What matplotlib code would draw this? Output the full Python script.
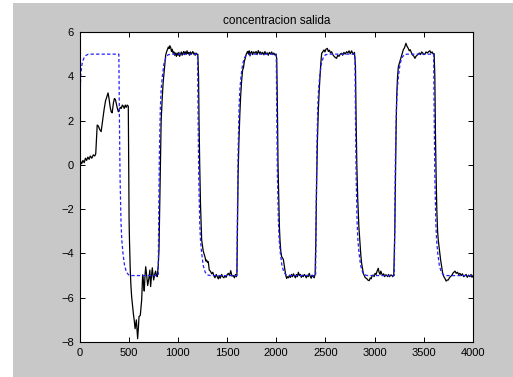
import matplotlib
matplotlib.use("Agg")
import matplotlib.pyplot as plt
from matplotlib.patches import Rectangle

plt.rcParams['font.family'] = ['Liberation Sans', 'DejaVu Sans']

title = "concentracion salida"
xticks = [0, 500, 1000, 1500, 2000, 2500, 3000, 3500, 4000]
yticks = [-8, -6, -4, -2, 0, 2, 4, 6]

# reference (blue dashed) knots
ref_t = [0, 4, 8, 12, 20, 30, 45, 65, 90,
         400, 406, 412, 422, 430, 442, 458, 478, 500, 530,
         800, 806, 812, 822, 830, 842, 858, 878, 900, 930,
         1200, 1206, 1212, 1222, 1230, 1242, 1258, 1278, 1300, 1330,
         1600, 1606, 1612, 1622, 1630, 1642, 1658, 1678, 1700, 1730,
         2000, 2006, 2012, 2022, 2030, 2042, 2058, 2078, 2100, 2130,
         2400, 2406, 2412, 2422, 2430, 2442, 2458, 2478, 2500, 2530,
         2800, 2806, 2812, 2822, 2830, 2842, 2858, 2878, 2900, 2930,
         3200, 3206, 3212, 3222, 3230, 3242, 3258, 3278, 3300, 3330,
         3600, 3606, 3612, 3622, 3630, 3642, 3658, 3678, 3700, 3730, 4000]
ref_y = [0.0, 2.0, 3.3, 4.0, 4.4, 4.65, 4.82, 4.94, 5.0,
         5.0, 2.0, -0.5, -2.6, -3.4, -4.0, -4.55, -4.85, -4.97, -5.0,
         -5.0, -2.0, 0.5, 2.6, 3.4, 4.0, 4.55, 4.85, 4.97, 5.0,
         5.0, 2.0, -0.5, -2.6, -3.4, -4.0, -4.55, -4.85, -4.97, -5.0,
         -5.0, -2.0, 0.5, 2.6, 3.4, 4.0, 4.55, 4.85, 4.97, 5.0,
         5.0, 2.0, -0.5, -2.6, -3.4, -4.0, -4.55, -4.85, -4.97, -5.0,
         -5.0, -2.0, 0.5, 2.6, 3.4, 4.0, 4.55, 4.85, 4.97, 5.0,
         5.0, 2.0, -0.5, -2.6, -3.4, -4.0, -4.55, -4.85, -4.97, -5.0,
         -5.0, -2.0, 0.5, 2.6, 3.4, 4.0, 4.55, 4.85, 4.97, 5.0,
         5.0, 2.0, -0.5, -2.6, -3.4, -4.0, -4.55, -4.85, -4.97, -5.0, -5.0]

# measured output (black solid)
out_t = [0, 12, 22, 35, 48, 60, 72, 85, 98, 110, 125, 140, 155, 165,
         180, 192, 205, 220, 235, 250, 265, 280, 290, 300, 312, 322, 332, 345, 355, 365,
         375, 385, 395, 405, 415, 425, 435, 445, 455, 465, 475, 485, 496,
         500, 504, 508, 515, 522, 530, 547, 557, 565, 572, 578, 585, 591, 598, 605, 618,
         632, 642, 650, 658, 666, 673, 683, 693, 706, 715, 723, 732, 740, 748, 754, 764,
         774, 782, 791, 801, 808, 815, 822, 830, 842, 850, 859, 868, 876, 885, 893, 903,
         910, 918, 927, 935, 943, 952, 960, 968, 976, 985, 993, 1002, 1010, 1018, 1027,
         1035, 1043, 1052, 1060, 1068, 1077, 1085, 1093, 1102, 1110, 1118, 1127, 1135,
         1143, 1152, 1160, 1168, 1176, 1185, 1195, 1203, 1210, 1215, 1222, 1230, 1242,
         1258, 1275, 1285, 1293, 1300, 1309, 1319, 1330, 1344, 1355, 1365, 1377, 1390,
         1400, 1411, 1420, 1430, 1445, 1455, 1468, 1479, 1490, 1502, 1513, 1525, 1537,
         1550, 1563, 1575, 1585, 1595, 1600, 1605, 1612, 1620, 1630, 1638, 1648, 1658,
         1667, 1675, 1684, 1692, 1700, 1709, 1718, 1725, 1733, 1742, 1750, 1760, 1770,
         1784, 1795, 1805, 1818, 1830, 1840, 1852, 1862, 1875, 1885, 1895, 1908, 1919,
         1930, 1942, 1953, 1965, 1975, 1987, 1997,
         2005, 2012, 2018, 2025, 2032, 2038, 2046, 2055, 2063, 2072, 2080, 2089, 2097,
         2106, 2115, 2125, 2135, 2145, 2155, 2165, 2175, 2185, 2195, 2205, 2215, 2225,
         2235, 2245, 2255, 2265, 2275, 2285, 2295, 2305, 2315, 2325, 2335, 2345, 2355,
         2365, 2375, 2385, 2395,
         2402, 2410, 2418, 2428, 2437, 2445, 2453, 2462, 2472, 2485, 2495, 2505, 2519,
         2530, 2540, 2552, 2563, 2575, 2588, 2600, 2613, 2625, 2638, 2650, 2664, 2675,
         2688, 2700, 2715, 2727, 2740, 2752, 2766, 2775, 2783, 2795,
         2805, 2812, 2819, 2828, 2840, 2851, 2860, 2868, 2877, 2885, 2895, 2905, 2919,
         2930, 2945, 2955, 2965, 2975, 2986, 2995, 3005, 3015, 3025, 3037, 3045, 3055,
         3063, 3071, 3082, 3092, 3102, 3112, 3122, 3132, 3142, 3152, 3162, 3173, 3185, 3195,
         3205, 3212, 3218, 3224, 3232, 3241, 3252, 3265, 3278, 3291, 3305, 3318, 3330,
         3342, 3352, 3362, 3376, 3388, 3400, 3410, 3420, 3432, 3444, 3455, 3467, 3478,
         3490, 3500, 3511, 3522, 3535, 3550, 3562, 3572, 3585, 3596, 3605,
         3612, 3618, 3625, 3632, 3640, 3647, 3660, 3671, 3682, 3692, 3703, 3715, 3727,
         3738, 3749, 3760, 3770, 3783, 3795, 3805, 3817, 3830, 3842, 3855, 3867, 3880,
         3892, 3905, 3918, 3930, 3942, 3955, 3969, 3980, 3990, 4000]
out_y = [0.0, 0.15, 0.05, 0.2, 0.1, 0.3, 0.2, 0.35, 0.25, 0.4, 0.3, 0.45, 0.4, 0.5,
         1.8, 1.75, 1.6, 1.5, 2.0, 2.5, 2.9, 3.1, 3.25, 3.0, 2.6, 2.4, 2.35, 2.8, 3.0, 2.95,
         2.75, 2.55, 2.4, 2.5, 2.6, 2.55, 2.7, 2.65, 2.55, 2.7, 2.6, 2.7, 2.65,
         0.0, -2.5, -3.4, -4.6, -5.4, -5.95, -6.7, -7.05, -7.4, -7.2, -7.0, -7.5, -7.85, -7.4, -6.85, -6.8,
         -6.1, -4.97, -5.3, -5.7, -5.0, -4.6, -5.0, -5.45, -5.1, -4.75, -5.5, -5.0, -4.65, -5.0, -5.2, -4.95,
         -4.8, -5.0, -5.05, -4.5, -3.85, -2.0, 0.0, 2.0, 3.1, 3.7, 4.13, 4.6, 4.96, 5.1, 5.2, 5.32,
         5.25, 5.38, 5.3, 5.12, 5.22, 5.05, 5.1, 4.95, 5.05, 4.9, 5.05, 4.95, 5.08, 4.9, 5.0,
         5.1, 4.95, 5.05, 5.12, 4.98, 5.1, 5.0, 5.15, 5.02, 5.08, 4.95, 5.1, 5.0,
         5.05, 5.12, 5.0, 5.05, 4.95, 5.05, 4.98, 5.0, 4.0, 2.0, 0.0, -1.8, -3.4,
         -3.9, -4.15, -4.35, -4.3, -4.4, -4.37, -4.75, -4.8, -4.92, -4.85, -5.0, -5.1, -4.95,
         -5.05, -5.15, -5.0, -5.12, -4.95, -5.05, -5.1, -5.0, -5.08, -4.95, -4.9, -5.0, -4.78,
         -5.02, -5.0, -5.1, -4.95, -5.05, -4.95, -3.0, -0.5, 1.0, 2.3, 3.1, 3.8, 4.28,
         4.4, 4.66, 4.8, 4.96, 5.05, 5.12, 5.0, 5.15, 4.92, 5.08, 5.12, 4.98, 5.1,
         5.04, 5.12, 4.98, 5.16, 5.02, 5.1, 5.0, 5.08, 4.97, 5.12, 5.0, 5.06, 4.95,
         5.08, 5.0, 5.1, 4.98, 5.05, 4.96, 5.0,
         4.8, 2.5, 0.0, -1.5, -2.8, -3.4, -3.9, -4.15, -4.2, -4.27, -4.5, -4.75, -5.0,
         -5.13, -5.05, -5.1, -4.98, -5.08, -4.95, -5.05, -4.92, -5.02, -5.1, -4.95, -5.05, -4.85,
         -5.0, -4.95, -5.08, -4.98, -5.05, -4.95, -5.0, -5.1, -4.98, -5.05, -4.9, -5.02, -5.12,
         -4.98, -5.05, -5.1, -4.95,
         -3.5, -1.0, 1.0, 2.5, 3.4, 3.98, 4.6, 5.04, 5.1, 5.19, 5.1, 5.22, 5.26,
         5.12, 5.18, 5.05, 5.11, 4.98, 4.9, 4.85, 4.81, 4.95, 4.9, 5.0, 5.04, 4.95,
         5.08, 5.0, 5.11, 5.05, 5.15, 5.02, 5.15, 5.05, 5.0, 5.08,
         4.5, 2.0, 0.0, -1.5, -2.8, -3.55, -4.1, -4.45, -4.7, -4.9, -5.0, -5.1, -5.13,
         -5.2, -5.23, -5.1, -5.15, -5.0, -4.98, -5.05, -4.9, -4.95, -4.8, -4.67, -4.85, -4.95,
         -4.8, -4.9, -5.0, -4.92, -5.05, -4.97, -4.98, -5.05, -4.95, -5.05, -4.98, -4.98, -5.05, -4.95,
         -3.0, -0.5, 1.5, 3.0, 3.9, 4.43, 4.6, 4.81, 5.0, 5.19, 5.3, 5.49, 5.35,
         5.26, 5.15, 5.2, 5.04, 4.95, 4.9, 4.81, 4.9, 4.95, 5.0, 5.05, 4.98, 5.1,
         5.05, 4.98, 5.0, 5.1, 5.05, 5.12, 5.15, 5.05, 5.1, 5.0, 5.02,
         4.0, 1.5, -0.5, -2.0, -3.0, -3.4, -3.9, -4.3, -4.6, -4.9, -5.05, -5.13, -5.25,
         -5.2, -5.2, -5.1, -5.05, -5.0, -4.9, -4.85, -4.8, -4.9, -4.85, -4.95, -4.9, -5.0,
         -4.92, -5.05, -5.0, -4.95, -5.08, -4.98, -5.05, -4.95, -5.08, -5.0]

W, H = 513, 377
fig = plt.figure(figsize=(W / 100, H / 100), dpi=100, facecolor='white')
bg = Rectangle((13 / W, 0), 1 - 13 / W, 1 - 3 / H, transform=fig.transFigure,
               facecolor='#c8c8c8', edgecolor='none', zorder=-10)
fig.add_artist(bg)

ax = fig.add_axes([79.5 / W, (H - 342) / H, 393.5 / W, 310 / H])
ax.set_zorder(5)
ax.set_facecolor('white')
ax.plot(out_t, out_y, color='black', lw=0.9)
ax.plot(ref_t, ref_y, color='#2020ff', lw=0.9, dashes=(2.6, 1.8))
ax.set_xlim(0, 4000)
ax.set_ylim(-8, 6)
ax.set_xticks(xticks)
ax.set_yticks(yticks)
ax.tick_params(direction='in', length=3.5, width=0.7, top=True, right=True,
               labelsize=8, pad=4, colors='black')
for s in ax.spines.values():
    s.set_linewidth(0.8)
ax.set_title(title, fontsize=8.5, pad=6)

fig.savefig('out.png', dpi=100, facecolor=fig.get_facecolor())
